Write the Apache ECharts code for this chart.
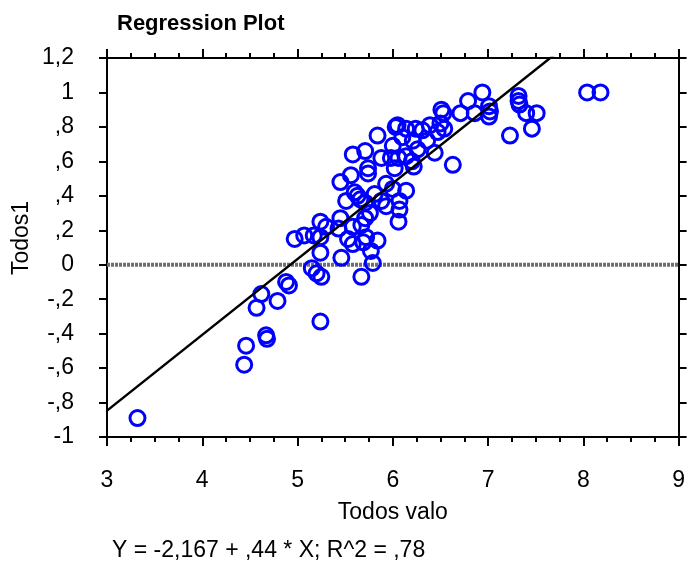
<!DOCTYPE html>
<html>
<head>
<meta charset="utf-8">
<script src="https://cdn.jsdelivr.net/npm/echarts@6/dist/echarts.min.js"></script>
<style>
html,body{margin:0;padding:0;background:#fff;}
#chart{width:688px;height:564px;}
</style>
</head>
<body>
<div id="chart"></div>
<script>
// ---- data ----
const titleText = "Regression Plot";
const xName = "Todos valo";
const yName = "Todos1";
const footnote = "Y = -2,167 + ,44 * X; R^2 = ,78";

const xTickValues = [3, 4, 5, 6, 7, 8, 9];
const xTickLabels = ["3", "4", "5", "6", "7", "8", "9"];
const yTickValues = [-1, -0.8, -0.6, -0.4, -0.2, 0, 0.2, 0.4, 0.6, 0.8, 1, 1.2];
const yTickLabels = ["-1", "-,8", "-,6", "-,4", "-,2", "0", ",2", ",4", ",6", ",8", "1", "1,2"];

// regression: intercept, slope
const regIntercept = -2.167;
const regSlope = 0.44;
const regXRange = [3, 9];

const todosValo = [
  3.32, 4.44, 4.46, 4.67, 4.68, 4.57, 4.62, 4.79, 4.88, 4.91,
  5.24, 4.97, 5.15, 5.20, 5.25, 5.24, 5.46, 5.67, 5.79, 5.84,
  5.77, 5.53, 5.58, 5.07, 5.17, 5.24, 5.30, 5.43, 5.58, 5.72,
  5.69,
  5.45, 5.24, 5.71, 5.76, 5.67, 5.51, 5.45, 5.60, 5.63, 5.66,
  5.71, 5.81, 5.93, 5.88, 6.07, 6.07, 6.06, 6.14, 6.00, 5.93,
  5.56, 5.74, 5.74, 6.02, 6.22, 5.58, 5.71, 5.88, 5.98, 5.84,
  6.03, 6.06, 6.14, 6.20,
  6.05, 6.14, 6.24, 6.31, 6.39, 6.47, 6.10, 6.21, 6.36, 6.00,
  6.26, 6.50, 6.54,
  6.44, 6.63, 6.51, 6.53, 6.71, 6.86, 6.79, 6.94, 7.01, 7.02,
  7.01, 7.32, 7.32, 7.33, 7.40, 7.51, 7.46, 7.23, 8.04, 8.18
];
const todos1 = [
  -0.89, -0.58, -0.47, -0.41, -0.43, -0.25, -0.17, -0.21, -0.10, -0.12,
  -0.33, 0.15, -0.02, -0.05, -0.07, 0.07, 0.04, -0.07, 0.01, 0.14,
  0.08, 0.15, 0.12, 0.17, 0.17, 0.16, 0.22, 0.21, 0.22, 0.16,
  0.13,
  0.27, 0.25, 0.27, 0.30, 0.23, 0.37, 0.48, 0.42, 0.40, 0.38,
  0.36, 0.41, 0.34, 0.37, 0.37, 0.32, 0.25, 0.43, 0.44, 0.47,
  0.52, 0.53, 0.56, 0.56, 0.57, 0.64, 0.66, 0.62, 0.62, 0.75,
  0.80, 0.62, 0.63, 0.60,
  0.81, 0.79, 0.79, 0.78, 0.81, 0.77, 0.74, 0.72, 0.72, 0.69,
  0.67, 0.82, 0.79,
  0.65, 0.58, 0.90, 0.88, 0.88, 0.88, 0.95, 1.00, 0.92, 0.89,
  0.86, 0.98, 0.95, 0.93, 0.88, 0.88, 0.79, 0.75, 1.00, 1.00
];

// ---- build chart ----
const FONT = "Liberation Sans, Arial, sans-serif";
const points = todosValo.map((v, i) => [v, todos1[i]]);
const regLine = regXRange.map(x => [x, regIntercept + regSlope * x]);

function yLabel(v) {
  let best = 0, bd = Infinity;
  yTickValues.forEach((t, i) => { const d = Math.abs(t - v); if (d < bd) { bd = d; best = i; } });
  return bd < 1e-6 ? yTickLabels[best] : "";
}
function xLabel(v) {
  const i = xTickValues.findIndex(t => Math.abs(t - v) < 1e-6);
  return i >= 0 ? xTickLabels[i] : "";
}

const axisLine = { show: true, onZero: false, lineStyle: { color: "#000", width: 2 } };
const chart = echarts.init(document.getElementById("chart"), null, { renderer: "canvas" });
chart.setOption({
  animation: false,
  backgroundColor: "#fff",
  title: {
    text: titleText, left: 112, top: 8,
    textStyle: { fontFamily: FONT, fontSize: 22, fontWeight: "bold", color: "#000" }
  },
  graphic: [{
    type: "text", left: 112, top: 539,
    style: { text: footnote, fontFamily: FONT, fontSize: 23, fill: "#000" }
  }, {
    type: "text", x: 22, y: 238, rotation: Math.PI / 2,
    style: { text: yName, fontFamily: FONT, fontSize: 23, fill: "#000", align: "center", verticalAlign: "middle" }
  }],
  grid: { left: 107, right: 4, top: 58, bottom: 127, containLabel: false },
  xAxis: [{
    type: "value", min: 3, max: 9, interval: 1, position: "bottom",
    name: xName, nameLocation: "middle", nameGap: 64,
    nameTextStyle: { fontFamily: FONT, fontSize: 23, color: "#000" },
    axisLine: axisLine,
    axisTick: { show: true, inside: false, length: 9, lineStyle: { color: "#000", width: 2 } },
    minorTick: { show: true, splitNumber: 4, length: 5, lineStyle: { color: "#000", width: 2 } },
    axisLabel: { margin: 32, fontFamily: FONT, fontSize: 23, color: "#000", formatter: xLabel },
    splitLine: { show: false }
  }, {
    type: "value", min: 3, max: 9, interval: 1, position: "top",
    axisLine: axisLine,
    axisTick: { show: true, inside: false, length: 9, lineStyle: { color: "#000", width: 2 } },
    minorTick: { show: true, splitNumber: 4, length: 5, lineStyle: { color: "#000", width: 2 } },
    axisLabel: { show: false }, splitLine: { show: false }
  }],
  yAxis: [{
    type: "value", min: -1, max: 1.2, interval: 0.2, position: "left",
    axisLine: axisLine,
    axisTick: { show: true, inside: false, length: 8, lineStyle: { color: "#000", width: 2 } },
    axisLabel: { margin: 33, fontFamily: FONT, fontSize: 23, color: "#000", formatter: yLabel },
    splitLine: { show: false }
  }, {
    type: "value", min: -1, max: 1.2, interval: 0.2, position: "right",
    axisLine: axisLine,
    axisTick: { show: true, inside: false, length: 8, lineStyle: { color: "#000", width: 2 } },
    axisLabel: { show: false }, splitLine: { show: false }
  }],
  series: [{
    type: "line", data: [[3, 0], [9, 0]], xAxisIndex: 0, yAxisIndex: 0,
    symbol: "none", silent: true, z: 1,
    lineStyle: { color: "#6f6f6f", width: 4, type: [3, 1] }
  }, {
    type: "scatter", data: points, xAxisIndex: 0, yAxisIndex: 0,
    symbol: "circle", symbolSize: 15, z: 2,
    itemStyle: { color: "rgba(0,0,0,0)", borderColor: "#0000ff", borderWidth: 3, opacity: 1 }
  }, {
    type: "line", data: regLine, xAxisIndex: 0, yAxisIndex: 0,
    symbol: "none", clip: true, z: 3,
    lineStyle: { color: "#000", width: 2.5 }
  }]
});
</script>
</body>
</html>
